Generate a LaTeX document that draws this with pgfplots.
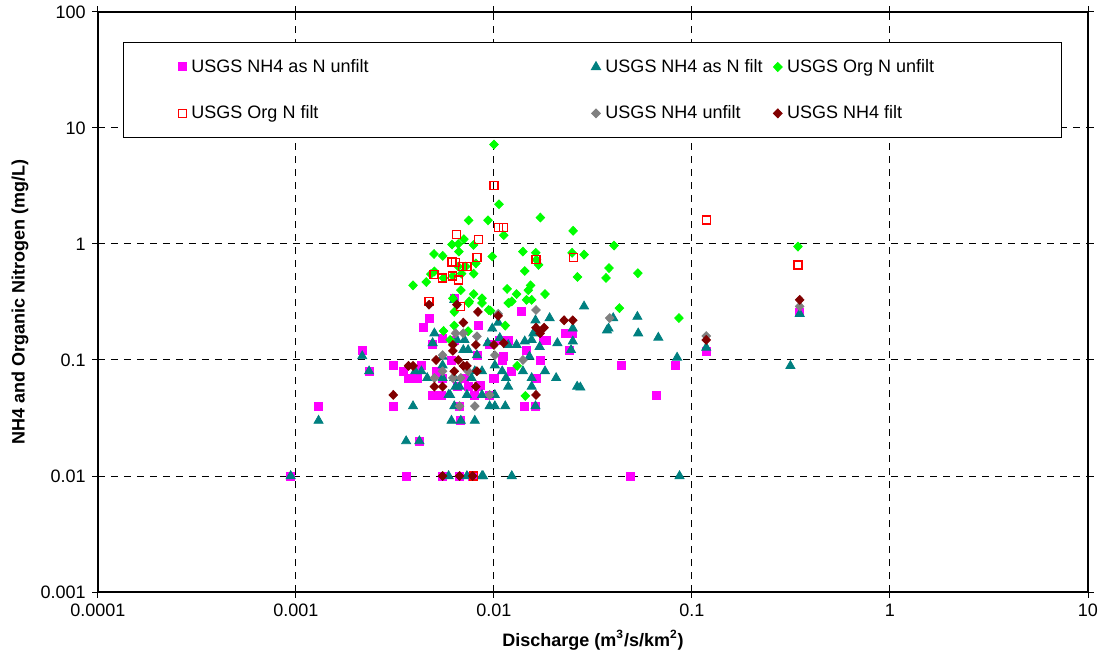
\documentclass[border=0pt]{standalone}
\usepackage{pgfplots}
\pgfplotsset{compat=1.18}
\usepackage{fontspec}
\setmainfont{Liberation Sans}
\definecolor{cMag}{RGB}{255,0,255}
\definecolor{cTeal}{RGB}{0,128,128}
\definecolor{cLime}{RGB}{0,255,0}
\definecolor{cRed}{RGB}{255,0,0}
\definecolor{cGray}{RGB}{128,128,128}
\definecolor{cMaroon}{RGB}{128,0,0}
\newcommand{\la}[1]{\makebox[197.5pt][l]{#1}}
\newcommand{\lb}[1]{\makebox[81.5pt][l]{#1}}
\newcommand{\lc}[1]{\makebox[109.5pt][l]{#1}}
\begin{document}
\fontsize{9pt}{11pt}\selectfont
\begin{tikzpicture}
\begin{loglogaxis}[
  scale only axis, width=495pt, height=290pt,
  xmin=0.0001, xmax=10, ymin=0.001, ymax=100,
  xtick={0.0001,0.001,0.01,0.1,1,10},
  xticklabels={0.0001,0.001,0.01,0.1,1,10},
  ytick={0.001,0.01,0.1,1,10,100},
  yticklabels={0.001,0.01,0.1,1,10,100},
  xminorticks=false, yminorticks=false,
  grid=major,
  major grid style={black, line width=0.5pt, dash pattern=on 3.5pt off 3pt},
  tick align=outside, major tick length=3pt,
  axis line style={black, line width=0.6pt},
  tick style={black, line width=0.5pt},
  tick label style={font=\fontsize{9pt}{11pt}\selectfont},
  xlabel={Discharge (m\textsuperscript{3}/s/km\textsuperscript{2})},
  ylabel={NH4 and Organic Nitrogen (mg/L)},
  xlabel style={at={(axis description cs:0.5,-0.0828)}, anchor=center, font=\fontsize{9pt}{11pt}\selectfont\bfseries},
  ylabel style={at={(axis description cs:-0.0788,0.5)}, anchor=center, font=\fontsize{9pt}{11pt}\selectfont\bfseries},
  legend columns=3,
  legend cell align=left,
  legend style={at={(axis description cs:0.02525,0.9483)}, anchor=north west,
    draw=black, line width=0.5pt, fill=white,
    inner xsep=27.5pt, inner ysep=7pt, column sep=2.5pt, row sep=12.7pt,
    font=\fontsize{9pt}{11pt}\selectfont,
    nodes={inner sep=0pt, text height=8pt, text depth=2.5pt}},
  legend image code/.code={\draw[mark repeat=2,mark phase=2,#1] plot coordinates {(0pt,0pt)(2.5pt,0pt)(5pt,0pt)};},
]
% USGS NH4 as N unfilt
\addplot[only marks, mark=square*, mark size=2pt, color=cMag, mark options={draw=cMag, fill=cMag}] coordinates {
(0.00094,0.01) (0.0013,0.04) (0.00216,0.12) (0.00234,0.08) (0.0031,0.09) (0.0031,0.04)
(0.0036,0.01) (0.0035,0.08) (0.0037,0.07) (0.0039,0.07) (0.0041,0.07) (0.0043,0.089)
(0.0042,0.02) (0.0047,0.23) (0.0044,0.19) (0.0049,0.135) (0.0055,0.154) (0.0051,0.08)
(0.0049,0.05) (0.0054,0.05) (0.0068,0.03) (0.0067,0.04) (0.0055,0.01) (0.0067,0.01)
(0.0078,0.01) (0.0083,0.2) (0.0138,0.26) (0.0101,0.07) (0.0095,0.05) (0.0123,0.08)
(0.0111,0.107) (0.0118,0.149) (0.0146,0.122) (0.0171,0.1) (0.0164,0.07) (0.0142,0.04)
(0.0162,0.04) (0.0229,0.17) (0.025,0.17) (0.0241,0.122) (0.0178,0.149) (0.044,0.089)
(0.0658,0.05) (0.0826,0.089) (0.0486,0.01) (0.118,0.118) (0.35,0.258) (0.0083,0.059)
(0.0074,0.059) (0.0065,0.059) (0.0061,0.1) (0.011,0.1) (0.0063,0.149) (0.0095,0.135)
(0.0184,0.149) (0.008,0.05) (0.0106,0.149) (0.0082,0.11) (0.0052,0.08) (0.0055,0.07)
(0.0071,0.07) (0.0099,0.07) (0.0085,0.06) (0.0063,0.34)
};
\addlegendentry{\la{USGS NH4 as N unfilt}}
% USGS NH4 as N filt
\addplot[only marks, mark=triangle*, mark size=2.6pt, color=cTeal, mark options={draw=cTeal, fill=cTeal}] coordinates {
(0.00094,0.01) (0.0013,0.03) (0.00216,0.108) (0.00234,0.08) (0.0036,0.02) (0.0042,0.02)
(0.0039,0.04) (0.0061,0.03) (0.0068,0.03) (0.008,0.03) (0.0063,0.04) (0.0073,0.05)
(0.006,0.05) (0.0095,0.04) (0.0101,0.04) (0.0114,0.04) (0.0123,0.01) (0.0088,0.01)
(0.0073,0.01) (0.0059,0.01) (0.0040,0.08) (0.0043,0.08) (0.0046,0.07) (0.0055,0.07)
(0.0064,0.059) (0.0067,0.059) (0.0063,0.07) (0.0077,0.07) (0.008,0.08) (0.0087,0.08)
(0.0101,0.09) (0.0115,0.07) (0.0118,0.059) (0.011,0.08) (0.014,0.08) (0.0155,0.07)
(0.0155,0.059) (0.0181,0.08) (0.0206,0.07) (0.0263,0.059) (0.0055,0.09) (0.0055,0.107)
(0.0049,0.14) (0.005,0.17) (0.0065,0.149) (0.007,0.122) (0.0071,0.149) (0.0074,0.122)
(0.0082,0.11) (0.0093,0.14) (0.0098,0.187) (0.0107,0.155) (0.0118,0.135) (0.013,0.135)
(0.0143,0.145) (0.0155,0.149) (0.0162,0.22) (0.017,0.13) (0.0191,0.23) (0.0209,0.14)
(0.025,0.145) (0.025,0.187) (0.0285,0.29) (0.0372,0.18) (0.04,0.23) (0.0151,0.107)
(0.0245,0.122) (0.0105,0.21) (0.0158,0.17) (0.0379,0.187) (0.053,0.236) (0.0535,0.17)
(0.0676,0.156) (0.0841,0.105) (0.0273,0.058) (0.314,0.089) (0.0865,0.01) (0.118,0.128)
(0.35,0.25) (0.0059,0.05) (0.0087,0.05) (0.0101,0.05) (0.0162,0.04) (0.0087,0.01)
(0.0063,0.33)
};
\addlegendentry{\lb{USGS NH4 as N filt}}
% USGS Org N unfilt
\addplot[only marks, mark=diamond*, mark size=2.2pt, color=cLime, mark options={draw=cLime, fill=cLime, xscale=1.3}] coordinates {
(0.01,7.2) (0.0106,2.2) (0.00745,1.6) (0.00933,1.6) (0.01715,1.69) (0.0112,1.19)
(0.0251,1.30) (0.0404,0.97) (0.00705,1.1) (0.00614,0.99) (0.0066,1.0) (0.00788,0.98)
(0.0098,0.78) (0.00498,0.82) (0.00551,0.79) (0.00665,0.86) (0.014,0.86) (0.01626,0.84)
(0.0285,0.81) (0.0248,0.84) (0.0081,0.68) (0.0168,0.66) (0.0164,0.73) (0.0143,0.585)
(0.0381,0.62) (0.0368,0.51) (0.0264,0.52) (0.0079,0.555) (0.0039,0.44) (0.00455,0.47)
(0.005,0.58) (0.00556,0.51) (0.0048,0.55) (0.00686,0.555) (0.0062,0.53) (0.0066,0.64)
(0.0072,0.64) (0.01165,0.41) (0.013,0.37) (0.0153,0.44) (0.0149,0.40) (0.0181,0.37)
(0.0146,0.33) (0.0118,0.31) (0.0123,0.32) (0.0079,0.37) (0.0087,0.34) (0.0075,0.32)
(0.0068,0.40) (0.043,0.28) (0.0062,0.34) (0.343,0.95) (0.0859,0.23) (0.0533,0.56)
(0.0063,0.26) (0.0096,0.266) (0.0063,0.198) (0.0114,0.198) (0.00556,0.178) (0.006,0.149)
(0.0131,0.089) (0.0144,0.049) (0.00745,0.31) (0.0087,0.31) (0.0094,0.27) (0.0074,0.177)
(0.0119,0.31) (0.0155,0.33)
};
\addlegendentry{\lc{USGS Org N unfilt}}
% USGS Org N filt
\addplot[only marks, mark=square, mark size=2pt, color=cRed, mark options={draw=cRed, line width=0.6pt}] coordinates {
(0.01,3.2) (0.0105,1.39) (0.0112,1.39) (0.00646,1.2) (0.00834,1.1) (0.0082,0.77)
(0.0163,0.74) (0.0251,0.77) (0.00614,0.70) (0.0064,0.69) (0.00694,0.64) (0.0073,0.64)
(0.00498,0.55) (0.0055,0.51) (0.0062,0.53) (0.0066,0.49) (0.0047,0.32) (0.0068,0.29)
(0.118,1.61) (0.343,0.66) (0.0079,0.01)
};
\addlegendentry{\la{USGS Org N filt}}
% USGS NH4 unfilt
\addplot[only marks, mark=diamond*, mark size=2.2pt, color=cGray, mark options={draw=cGray, fill=cGray, xscale=1.3}] coordinates {
(0.0163,0.27) (0.0384,0.23) (0.0105,0.25) (0.0064,0.17) (0.007,0.17) (0.0082,0.16)
(0.0055,0.11) (0.014,0.1) (0.0101,0.11) (0.0055,0.08) (0.005,0.07) (0.0062,0.07)
(0.0068,0.07) (0.0074,0.08) (0.0095,0.05) (0.0067,0.04) (0.008,0.04) (0.118,0.161)
(0.35,0.29)
};
\addlegendentry{\lb{USGS NH4 unfilt}}
% USGS NH4 filt
\addplot[only marks, mark=diamond*, mark size=2.2pt, color=cMaroon, mark options={draw=cMaroon, fill=cMaroon, xscale=1.3}] coordinates {
(0.0047,0.30) (0.0065,0.30) (0.0083,0.26) (0.0105,0.24) (0.007,0.21) (0.0163,0.19)
(0.0179,0.19) (0.0171,0.17) (0.0226,0.22) (0.025,0.22) (0.0112,0.14) (0.0081,0.135)
(0.01,0.135) (0.0062,0.135) (0.0062,0.12) (0.0051,0.1) (0.0066,0.1) (0.0037,0.089)
(0.0039,0.089) (0.007,0.089) (0.0073,0.089) (0.0063,0.08) (0.0082,0.08) (0.005,0.059)
(0.0055,0.059) (0.0081,0.059) (0.0031,0.05) (0.0163,0.05) (0.0055,0.01) (0.0067,0.01)
(0.0078,0.01) (0.118,0.149) (0.35,0.33)
};
\addlegendentry{\lc{USGS NH4 filt}}
\end{loglogaxis}
\pgfresetboundingbox
\path (current axis.south west) ++(-49pt,-32.5pt) coordinate (bbA);
\path (current axis.north east) ++(7pt,6pt) coordinate (bbB);
\path[use as bounding box] (bbA) rectangle (bbB);
\end{tikzpicture}
\end{document}
